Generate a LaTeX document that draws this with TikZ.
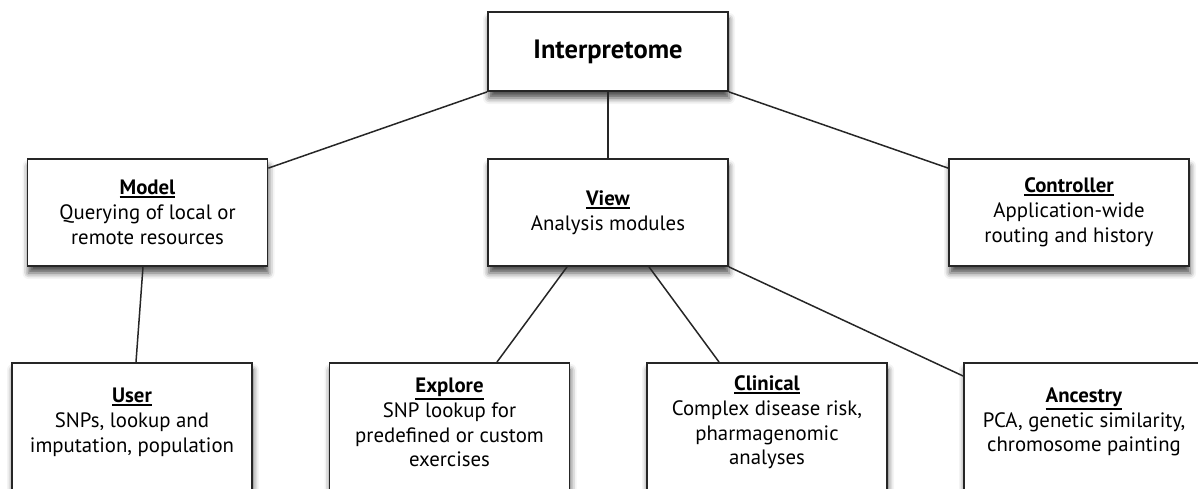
\documentclass[tikz,border=0pt]{standalone}
\usepackage{fontspec}
\setmainfont{PT Sans}
\usetikzlibrary{shadows.blur}

\newsavebox{\headbox}
\newcommand{\boxhead}[1]{\sbox{\headbox}{\textbf{#1}}%
  \rlap{\rule[-\dimexpr\dp\headbox+3pt\relax]{\wd\headbox}{1.8pt}}\usebox{\headbox}}

\tikzset{
  box/.style={draw=black!85, line width=1.8pt, fill=white, minimum width=240pt,
    blur shadow={shadow xshift=1pt, shadow yshift=-7pt, shadow blur radius=6pt, shadow opacity=70}},
  midbox/.style={box, minimum height=107pt, align=center, font=\fontsize{20.8}{24.8}\selectfont},
  lowbox/.style={box, minimum height=170pt, anchor=north},
  boxtext/.style={align=center, font=\fontsize{20.8}{24.8}\selectfont},
  link/.style={draw=black!85, line width=1.5pt}
}

\begin{document}
\begin{tikzpicture}[x=1pt,y=-1pt]
  \clip (0,0) rectangle (1198,489);
  % top
  \node[box, minimum height=79pt, font=\fontsize{26.5}{30}\selectfont\bfseries] (interp) at (608,51.5) {Interpretome};
  % middle row
  \node[midbox] (model) at (147.5,212.5) {\boxhead{Model}\\Querying of local or\\remote resources};
  \node[midbox] (view) at (608,212.5) {\boxhead{View}\\Analysis modules};
  \node[midbox] (ctrl) at (1069,212.5) {\boxhead{Controller}\\Application-wide\\routing and history};
  % bottom row
  \node[lowbox] (user) at (132,362) {};
  \node[boxtext] (usertxt) at (132,422) {\boxhead{User}\\SNPs, lookup and\\imputation, population};
  \node[lowbox] (explore) at (449.5,362) {};
  \node[boxtext] (exploretxt) at (449.5,422.5) {\boxhead{Explore}\\SNP lookup for\\predefined or custom\\exercises};
  \node[lowbox] (clinical) at (767,362) {};
  \node[boxtext] (clinicaltxt) at (767,422.5) {\boxhead{Clinical}\\Complex disease risk,\\pharmagenomic\\analyses};
  \node[lowbox] (ancestry) at (1084,362) {};
  \node[boxtext] (ancestrytxt) at (1084,422) {\boxhead{Ancestry}\\PCA, genetic similarity,\\chromosome painting};
  % links
  \draw[link] (interp.south west) -- ([yshift=-10pt]model.north east);
  \draw[link] (interp) -- (view);
  \draw[link] (interp.south east) -- ([yshift=-10pt]ctrl.north west);
  \draw[link] ([xshift=-4.5pt]model.south) -- ([xshift=4pt]user.north);
  \draw[link] ([xshift=-41pt]view.south) -- ([xshift=47.5pt]explore.north);
  \draw[link] ([xshift=41pt]view.south) -- ([xshift=-48pt]clinical.north);
  \draw[link] (view.south east) -- ([yshift=-14pt]ancestry.north west);
\end{tikzpicture}
\end{document}
